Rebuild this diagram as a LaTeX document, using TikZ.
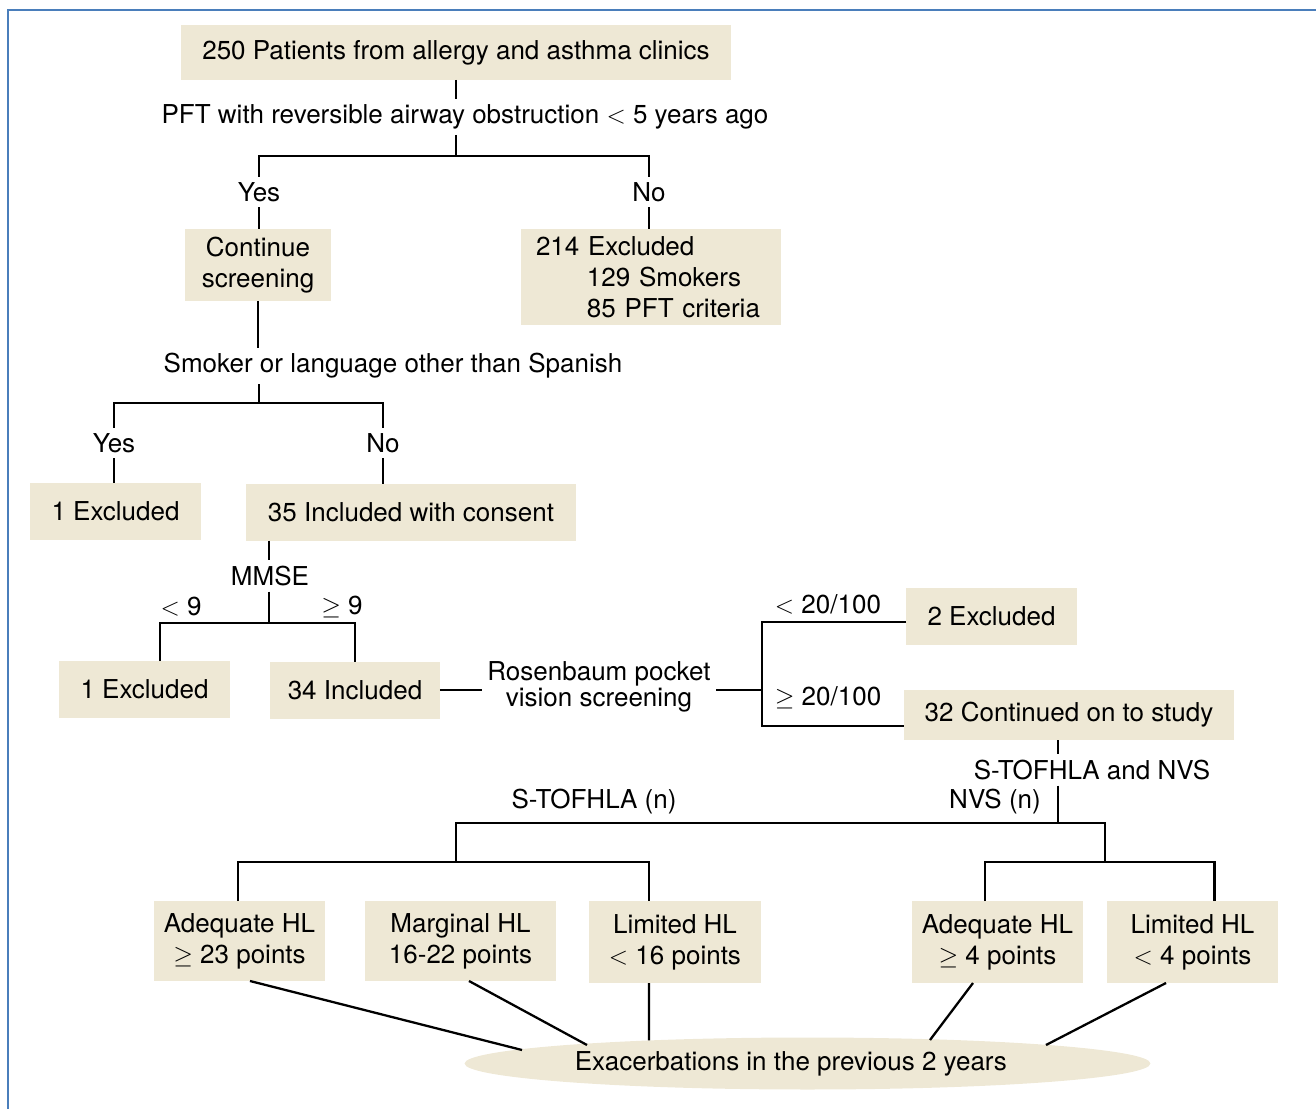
\documentclass[tikz,border=0pt]{standalone}
\usepackage{fontspec}
\setsansfont{TeX Gyre Heros}
\usepackage{tikz}
\usetikzlibrary{shapes.geometric}
\usepackage{xcolor}
\definecolor{mybeige}{HTML}{EEE8D5}
\definecolor{myblue}{HTML}{4A7EBB}
\tikzset{every node/.style={font={\sffamily\fontsize{14.8}{17.5}\selectfont}}}
\tikzstyle{block} = [fill=mybeige, inner sep=0pt, outer sep=0pt, align=center]
\tikzstyle{ln} = [draw, line width=1.3pt]

\begin{document}
\begin{tikzpicture}[x=0.02cm, y=-0.02cm,
    lbl/.style={inner sep=3pt, align=center},
    frame/.style={draw=myblue, line width=1.5pt}
  ]
  \useasboundingbox (0,0) rectangle (1316,1109);

  % Define frame
  \draw[frame] (8,1109) -- (8,10) -- (1316,10);

  % Define screening blocks
  \node[block, minimum width=11cm, minimum height=1.1cm] (patients) at (456,52.5) {250 Patients from allergy and asthma clinics};
  \node[lbl] (pft) at (465,117) {PFT with reversible airway obstruction \ensuremath{<} 5 years ago};
  \node[lbl] (pftyes) at (259,192) {Yes};
  \node[lbl] (pftno) at (649,192) {No};
  \node[block, minimum width=2.92cm, minimum height=1.44cm] (continue) at (258,265) {Continue\\screening};
  \node[block, align=left, text width=4.6cm, inner xsep=0.3cm, minimum height=1.92cm] (excl214) at (651,277) {214 Excluded\\\hspace*{29pt}129 Smokers\\\hspace*{29pt}85 PFT criteria};

  % Define consent blocks
  \node[lbl] (smoker) at (393,366) {Smoker or language other than Spanish};
  \node[lbl] (smkyes) at (114,443) {Yes};
  \node[lbl] (smkno) at (383,443) {No};
  \node[block, minimum width=3.42cm, minimum height=1.14cm] (excl1a) at (115.5,511.5) {1 Excluded};
  \node[block, minimum width=6.6cm, minimum height=1.14cm] (incl35) at (411,512) {35 Included with consent};

  % Define MMSE and vision blocks
  \node[lbl] (mmse) at (270,576) {MMSE};
  \node[lbl] (lt9) at (181,607) {\ensuremath{<} 9};
  \node[lbl] (ge9) at (342,607) {\ensuremath{\geq} 9};
  \node[block, minimum width=3.42cm, minimum height=1.14cm] (excl1b) at (144.5,689.5) {1 Excluded};
  \node[block, minimum width=3.4cm, minimum height=1.14cm] (incl34) at (355,690) {34 Included};
  \node[lbl, font={\sffamily\fontsize{14.8}{15}\selectfont}] (rosen) at (599,687) {Rosenbaum pocket\\vision screening};
  \node[lbl] (lt20) at (828,604) {\ensuremath{<} 20/100};
  \node[lbl] (ge20) at (828,698) {\ensuremath{\geq} 20/100};
  \node[block, minimum width=3.42cm, minimum height=1.14cm] (excl2) at (991.5,616.5) {2 Excluded};
  \node[block, minimum width=6.6cm, minimum height=1cm] (cont32) at (1069,715) {32 Continued on to study};

  % Define health literacy blocks
  \node[lbl] (hlq) at (1092,770) {S-TOFHLA and NVS};
  \node[lbl] (stofn) at (594,802) {S-TOFHLA (n)};
  \node[lbl] (nvsn) at (995,802) {NVS (n)};
  \node[block, minimum width=3.42cm, minimum height=1.6cm] (adeq1) at (239.5,941) {Adequate HL\\\ensuremath{\geq} 23 points};
  \node[block, minimum width=3.82cm, minimum height=1.6cm] (marg1) at (460.5,941) {Marginal HL\\16-22 points};
  \node[block, minimum width=3.44cm, minimum height=1.64cm] (lim1) at (675,942) {Limited HL\\\ensuremath{<} 16 points};
  \node[block, minimum width=3.42cm, minimum height=1.64cm] (adeq2) at (997.5,942) {Adequate HL\\\ensuremath{\geq} 4 points};
  \node[block, minimum width=3.42cm, minimum height=1.64cm] (lim2) at (1192.5,942) {Limited HL\\\ensuremath{<} 4 points};
  \node[block, ellipse, minimum width=13.72cm, minimum height=1.04cm] (exac) at (807.5,1063.5) {Exacerbations in the previous 2 years\hspace*{19pt}};

  % Define split points
  \coordinate (pftsplit) at (456,156);
  \coordinate (smksplit) at (259,403);
  \coordinate (mmsesplit) at (269,623);
  \coordinate (vissplit) at (762,690);
  \coordinate (hlsplit) at (1058,823);
  \coordinate (stofsplit) at (456,862);
  \coordinate (nvssplit) at (1105,862);

  % Draw lines
  \draw[ln] (patients.south) -- (patients.south |- pft.north);
  \draw[ln] (pftsplit |- pft.south) -- (pftsplit);
  \draw[ln] (pftyes.north) |- (pftsplit) -| (pftno.north);
  \draw[ln] (pftyes.south) -- (pftyes.south |- continue.north);
  \draw[ln] (pftno.south) -- (pftno.south |- excl214.north);

  \draw[ln] (continue.south) -- (continue.south |- smoker.north);
  \draw[ln] (smksplit |- smoker.south) -- (smksplit);
  \draw[ln] (smkyes.north) |- (smksplit) -| (smkno.north);
  \draw[ln] (smkyes.south) -- (smkyes.south |- excl1a.north);
  \draw[ln] (smkno.south) -- (smkno.south |- incl35.north);

  \draw[ln] (mmsesplit |- incl35.south) -- (mmsesplit |- mmse.north);
  \draw[ln] (mmsesplit |- mmse.south) -- (mmsesplit);
  \draw[ln] ([xshift=0.31cm]excl1b.north) |- (mmsesplit) -| (incl34.north);

  \draw[ln] (incl34.east) -- (incl34.east -| rosen.west);
  \draw[ln] (vissplit -| rosen.east) -- (vissplit);
  \draw[ln] ([yshift=-0.11cm]excl2.west) -| (vissplit) |- ([yshift=-0.22cm]cont32.west);

  \draw[ln] (cont32.south -| hlsplit) -- (hlsplit |- hlq.north);
  \draw[ln] (hlsplit |- hlq.south) -- (hlsplit);
  \draw[ln] (stofsplit) |- (hlsplit) -| (nvssplit);
  \draw[ln] ([xshift=-0.03cm]adeq1.north) |- (stofsplit) -| ([xshift=-0.52cm]lim1.north);
  \draw[ln] ([xshift=-0.25cm]adeq2.north) |- (nvssplit) -| ([xshift=0.44cm]lim2.north);

  \draw[ln] ([xshift=0.21cm]adeq1.south) -- ([shift={(-285.5,-13.5)}]exac.center);
  \draw[ln] ([xshift=0.17cm]marg1.south) -- ([shift={(-220.5,-18.5)}]exac.center);
  \draw[ln] ([xshift=-0.52cm]lim1.south) -- ([shift={(-158.5,-23.1)}]exac.center);
  \draw[ln] ([xshift=-0.49cm]adeq2.south) -- ([shift={(122.5,-23.5)}]exac.center);
  \draw[ln] ([xshift=-0.53cm]lim2.south) -- ([shift={(238.5,-18.5)}]exac.center);

\end{tikzpicture}
\end{document}
